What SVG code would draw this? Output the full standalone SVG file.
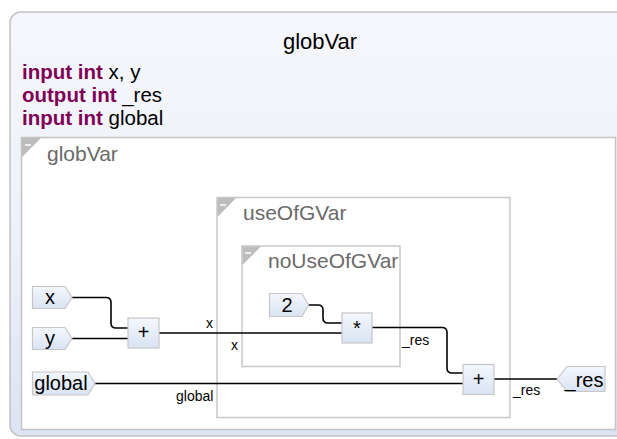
<svg xmlns="http://www.w3.org/2000/svg" width="617" height="439" viewBox="0 0 617 439">
  <defs>
    <linearGradient id="outerFill" x1="0" y1="0" x2="0" y2="1">
      <stop offset="0" stop-color="#f6f7fc"/>
      <stop offset="0.5" stop-color="#eef1f9"/>
      <stop offset="1" stop-color="#dbe4f5"/>
    </linearGradient>
    <linearGradient id="blockFill" x1="0" y1="0" x2="0" y2="1">
      <stop offset="0" stop-color="#f4f7fd"/>
      <stop offset="1" stop-color="#d9e3f4"/>
    </linearGradient>
    <style>
      .frame { fill: none; stroke: #c4c4c4; stroke-width: 1.5; }
      .region { fill: none; stroke: #c8c8c8; stroke-width: 1.5; }
      .fold { fill: #bdbdbd; }
      .dash { stroke: #ffffff; stroke-width: 1.5; }
      .regionLabel { font-family: "Liberation Sans", Arial, sans-serif; font-size: 21px; fill: #6a6a6a; }
      .decl { font-family: "Liberation Sans", Arial, sans-serif; font-size: 20.5px; fill: #000; }
      .kw { font-weight: bold; fill: #7f0055; }
      .port { fill: url(#blockFill); stroke: #c6c6c6; stroke-width: 1.2; }
      .block { fill: url(#blockFill); stroke: #c6c6c6; stroke-width: 1.2; }
      .nodeText { font-family: "Liberation Sans", Arial, sans-serif; font-size: 20px; fill: #000; text-anchor: middle; }
      .wire { fill: none; stroke: #000; stroke-width: 1.6; }
      .wireLabel { font-family: "Liberation Sans", Arial, sans-serif; font-size: 14px; fill: #000; }
    </style>
  </defs>

  <!-- outer module frame -->
  <g id="module">
    <rect x="10" y="12" width="630" height="424" rx="11" fill="url(#outerFill)" stroke="#c2c2c2" stroke-width="1.5"/>
    <text x="320" y="49" font-family="Liberation Sans, Arial, sans-serif" font-size="22" text-anchor="middle">globVar</text>
    <text class="decl" x="22" y="79"><tspan class="kw">input int</tspan> x, y</text>
    <text class="decl" x="22" y="102"><tspan class="kw">output int</tspan> _res</text>
    <text class="decl" x="22" y="125"><tspan class="kw">input int</tspan> global</text>
  </g>

  <!-- top-level region -->
  <g id="region-globVar">
    <rect x="21.5" y="137.5" width="594" height="292" fill="#ffffff" stroke="#c4c4c4" stroke-width="1.5"/>
    <polygon class="fold" points="22,138 41,138 22,157"/>
    <line class="dash" x1="25" y1="145" x2="31" y2="145"/>
    <text class="regionLabel" x="47" y="161">globVar</text>
  </g>

  <g id="region-useOfGVar">
    <rect class="region" x="217" y="197.5" width="293" height="220"/>
    <polygon class="fold" points="217.5,198 236,198 217.5,217"/>
    <line class="dash" x1="220" y1="205" x2="226" y2="205"/>
    <text class="regionLabel" x="243" y="220">useOfGVar</text>
  </g>

  <g id="region-noUseOfGVar">
    <rect class="region" x="242" y="246" width="158" height="120.5"/>
    <polygon class="fold" points="242.5,246.5 261,246.5 242.5,265"/>
    <line class="dash" x1="245" y1="253" x2="251" y2="253"/>
    <text class="regionLabel" x="268" y="268">noUseOfGVar</text>
  </g>

  <!-- connectors -->
  <g id="connectors">
    <path class="wire" d="M72,297.5 H106 Q111,297.5 111,302.5 V323 Q111,328 116,328 H128"/>
    <path class="wire" d="M72,338.5 H128"/>
    <path class="wire" d="M159,333 H342"/>
    <path class="wire" d="M308,305 H318 Q323,305 323,310 V318 Q323,323 328,323 H342"/>
    <path class="wire" d="M372,327.5 H442 Q447,327.5 447,332.5 V368 Q447,373 452,373 H463"/>
    <path class="wire" d="M95,383.5 H463"/>
    <path class="wire" d="M494,379 H557"/>
    <text class="wireLabel" x="206" y="328">x</text>
    <text class="wireLabel" x="231" y="350">x</text>
    <text class="wireLabel" x="402" y="345">_res</text>
    <text class="wireLabel" x="176" y="401">global</text>
    <text class="wireLabel" x="513" y="395">_res</text>
  </g>

  <!-- input ports -->
  <g id="in-x">
    <polygon class="port" points="32.5,286.5 65,286.5 72,297.5 65,308.5 32.5,308.5"/>
    <text class="nodeText" x="50" y="304">x</text>
  </g>
  <g id="in-y">
    <polygon class="port" points="32.5,327.5 65,327.5 72,338.5 65,349.5 32.5,349.5"/>
    <text class="nodeText" x="50" y="345">y</text>
  </g>
  <g id="in-global">
    <polygon class="port" points="32.5,372 88,372 95,383.5 88,395 32.5,395"/>
    <text class="nodeText" x="61" y="390">global</text>
  </g>
  <g id="const-2">
    <polygon class="port" points="269.5,293.5 302,293.5 308.5,305 302,316.5 269.5,316.5"/>
    <text class="nodeText" x="287" y="312">2</text>
  </g>

  <!-- operators -->
  <g id="op-add1">
    <rect class="block" x="128" y="318" width="31" height="30"/>
    <text class="nodeText" x="143.5" y="339">+</text>
  </g>
  <g id="op-mul">
    <rect class="block" x="342" y="313" width="30" height="30"/>
    <text class="nodeText" x="357" y="335">*</text>
  </g>
  <g id="op-add2">
    <rect class="block" x="463" y="364.5" width="31" height="30"/>
    <text class="nodeText" x="478.5" y="386">+</text>
  </g>

  <!-- output port -->
  <g id="out-res">
    <polygon class="port" points="557,379 567,366.5 605,366.5 605,391.5 567,391.5"/>
    <text class="nodeText" x="584" y="387">_res</text>
  </g>
</svg>
